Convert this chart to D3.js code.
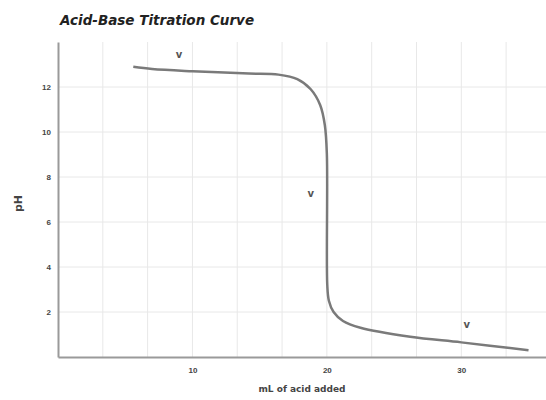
<!DOCTYPE html>
<html lang="en">
<head>
  <meta charset="UTF-8" />
  <title>Acid-Base Titration Curve</title>
  <script src="https://d3js.org/d3.v7.min.js"></script>
  <style>
    body { margin: 0; font-family: "DejaVu Sans", sans-serif; background: white; }
    .grid line { stroke: #e8e8e8; stroke-width: 1px; }
    .axis path, .axis line { stroke: #9a9a9a; }
    .axis text { fill: #444; font-size: 8px; font-weight: bold; }
  </style>
</head>
<body>
  <svg id="chart" width="546" height="400"></svg>

  <script>
    // volume of acid added (mL) and pH
    const volume = [5.6, 7, 10, 14.2, 16.4, 17.8, 18.8, 19.5, 19.85, 20.0, 20.03, 20.15, 20.5, 21.2, 22.5, 26.2, 30.0, 35.0];
    const pH     = [12.9, 12.8, 12.7, 12.6, 12.55, 12.35, 11.9, 11.2, 10.3, 9.0, 3.2, 2.5, 2.0, 1.6, 1.3, 0.9, 0.65, 0.3];

    const xTicks = [10, 20, 30];
    const yTicks = [2, 4, 6, 8, 10, 12];
    const xGrid = [10/3, 20/3, 10, 40/3, 50/3, 20, 70/3, 80/3, 30, 100/3, 110/3];

    // small marks placed on the curve
    const marks = [[9.0, 13.3], [18.8, 7.1], [30.4, 1.3]];

    const svg = d3.select("#chart"),
          margin = {top: 42, right: 0, bottom: 43, left: 58},
          width = +svg.attr("width") - margin.left - margin.right,
          height = +svg.attr("height") - margin.top - margin.bottom;

    const g = svg.append("g").attr("transform", `translate(${margin.left},${margin.top})`);

    const x = d3.scaleLinear().domain([0, 36.3]).range([0, width]);
    const y = d3.scaleLinear().domain([0, 14]).range([height, 0]);

    g.append("g").attr("class", "grid")
      .selectAll("line").data(xGrid).join("line")
      .attr("x1", d => x(d)).attr("x2", d => x(d))
      .attr("y1", 0).attr("y2", height);

    g.append("g").attr("class", "grid")
      .selectAll("line").data(yTicks).join("line")
      .attr("x1", 0).attr("x2", width)
      .attr("y1", d => y(d)).attr("y2", d => y(d));

    g.append("g").attr("class", "axis")
      .attr("transform", `translate(0,${height})`)
      .call(d3.axisBottom(x).tickValues(xTicks).tickSize(0).tickPadding(10))
      .select(".domain").attr("stroke-width", 2);

    g.append("g").attr("class", "axis")
      .call(d3.axisLeft(y).tickValues(yTicks).tickSize(0).tickPadding(7))
      .select(".domain").attr("stroke-width", 2);

    const line = d3.line()
      .x((d, i) => x(volume[i]))
      .y(d => y(d))
      .curve(d3.curveCatmullRom.alpha(0.5));

    g.append("path")
      .datum(pH)
      .attr("fill", "none")
      .attr("stroke", "#7a7a7a")
      .attr("stroke-width", 2.5)
      .attr("d", line);

    g.selectAll(".mark").data(marks).join("text")
      .attr("class", "mark")
      .attr("x", d => x(d[0]))
      .attr("y", d => y(d[1]))
      .attr("text-anchor", "middle")
      .attr("font-size", 10)
      .attr("font-weight", "bold")
      .attr("fill", "#555")
      .text("v");

    svg.append("text")
      .attr("x", 60).attr("y", 25)
      .attr("font-size", 13.5).attr("font-weight", "bold").attr("font-style", "italic")
      .attr("fill", "#222")
      .text("Acid-Base Titration Curve");

    svg.append("text")
      .attr("x", margin.left + width / 2).attr("y", 392)
      .attr("text-anchor", "middle")
      .attr("font-size", 9).attr("font-weight", "bold").attr("fill", "#444")
      .text("mL of acid added");

    svg.append("text")
      .attr("transform", `translate(22,${margin.top + height / 2 + 4}) rotate(-90)`)
      .attr("text-anchor", "middle")
      .attr("font-size", 11).attr("font-weight", "bold").attr("fill", "#444")
      .text("pH");
  </script>
</body>
</html>
